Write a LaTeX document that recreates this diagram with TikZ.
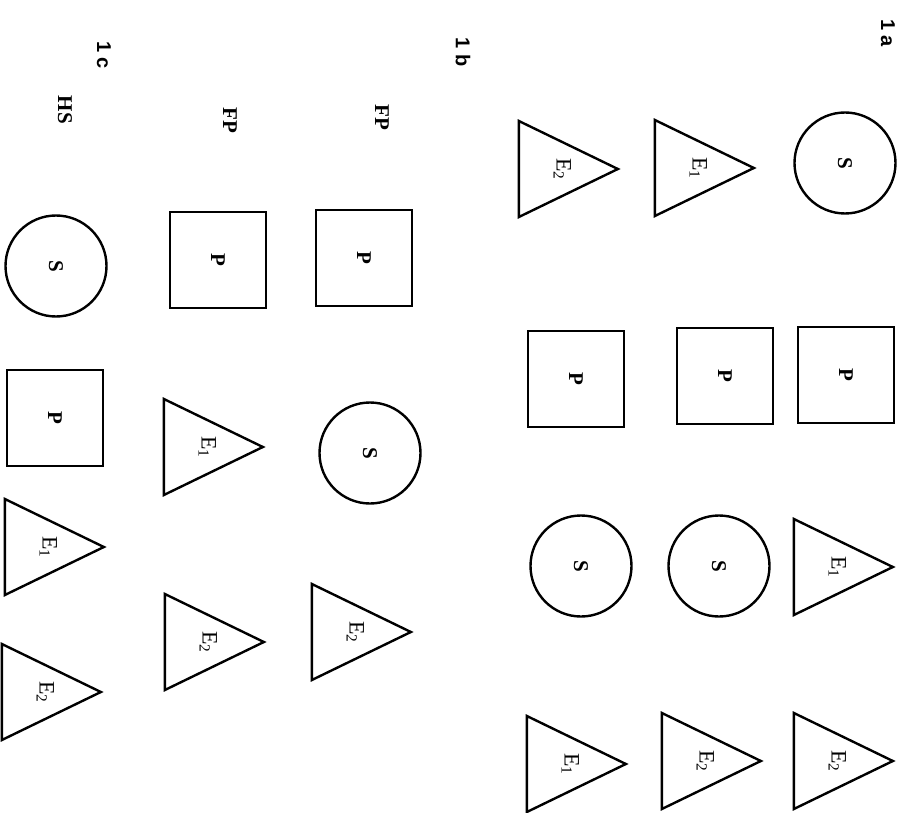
\documentclass[tikz,border=0pt]{standalone}
\usepackage{fontspec}
\setmainfont{Liberation Serif}
\newfontfamily\headfont{Liberation Sans}
\usetikzlibrary{shapes.geometric}

\newcommand{\turned}[1]{\hspace*{24pt}\rotatebox{-90}{#1}}

\begin{document}
\begin{tikzpicture}[x=1pt, y=-1pt,
    every node/.style={font=\fontsize{21}{23}\selectfont\bfseries},
    hd/.style={rotate=-90, font=\headfont\fontsize{20}{22}\selectfont\bfseries},
    tag/.style={rotate=-90},
    sub/.style={circle, draw, line width=2.4pt, minimum size=101pt, inner sep=0pt, rotate=-90},
    prd/.style={rectangle, draw, line width=2.4pt, minimum size=96pt, inner sep=0pt, rotate=-90},
    enz/.style={isosceles triangle, isosceles triangle stretches, draw, line width=2.4pt,
      minimum width=96pt, minimum height=99pt, inner sep=0pt, anchor=apex,
      font=\fontsize{22}{24}\selectfont\mdseries}]
    \useasboundingbox (0,0) rectangle (905,813);
    % group headings
    \node[hd] (la) at (888,33) {1 a};
    \node[hd] (lb) at (463,52) {1 b};
    \node[hd] (lc) at (104,55) {1 c};
    \node[tag] (fp1) at (382,117) {FP};
    \node[tag] (fp2) at (230,120) {FP};
    \node[tag] (hs) at (65,110) {HS};
    % 1 a
    \node[sub] (a1s) at (845,163) {S};
    \node[prd] (a1p) at (846,375) {P};
    \node[enz] (a1e1) at (896,567) {\turned{E\textsubscript{1}}};
    \node[enz] (a1e2) at (896,761) {\turned{E\textsubscript{2}}};
    \node[enz] (a2e1) at (757,168) {\turned{E\textsubscript{1}}};
    \node[prd] (a2p) at (725,376) {P};
    \node[sub] (a2s) at (719,566) {S};
    \node[enz] (a2e2) at (764,761) {\turned{E\textsubscript{2}}};
    \node[enz] (a3e2) at (621,169) {\turned{E\textsubscript{2}}};
    \node[prd] (a3p) at (576,379) {P};
    \node[sub] (a3s) at (581,566) {S};
    \node[enz] (a3e1) at (629,764) {\turned{E\textsubscript{1}}};
    % 1 b
    \node[prd] (b1p) at (364,258) {P};
    \node[sub] (b1s) at (370,453) {S};
    \node[enz] (b1e2) at (414,632) {\turned{E\textsubscript{2}}};
    \node[prd] (b2p) at (218,260) {P};
    \node[enz] (b2e1) at (266,447) {\turned{E\textsubscript{1}}};
    \node[enz] (b2e2) at (267,642) {\turned{E\textsubscript{2}}};
    % 1 c
    \node[sub] (cs) at (56,266) {S};
    \node[prd] (cp) at (55,418) {P};
    \node[enz] (ce1) at (107,547) {\turned{E\textsubscript{1}}};
    \node[enz] (ce2) at (104,692) {\turned{E\textsubscript{2}}};
\end{tikzpicture}
\end{document}
